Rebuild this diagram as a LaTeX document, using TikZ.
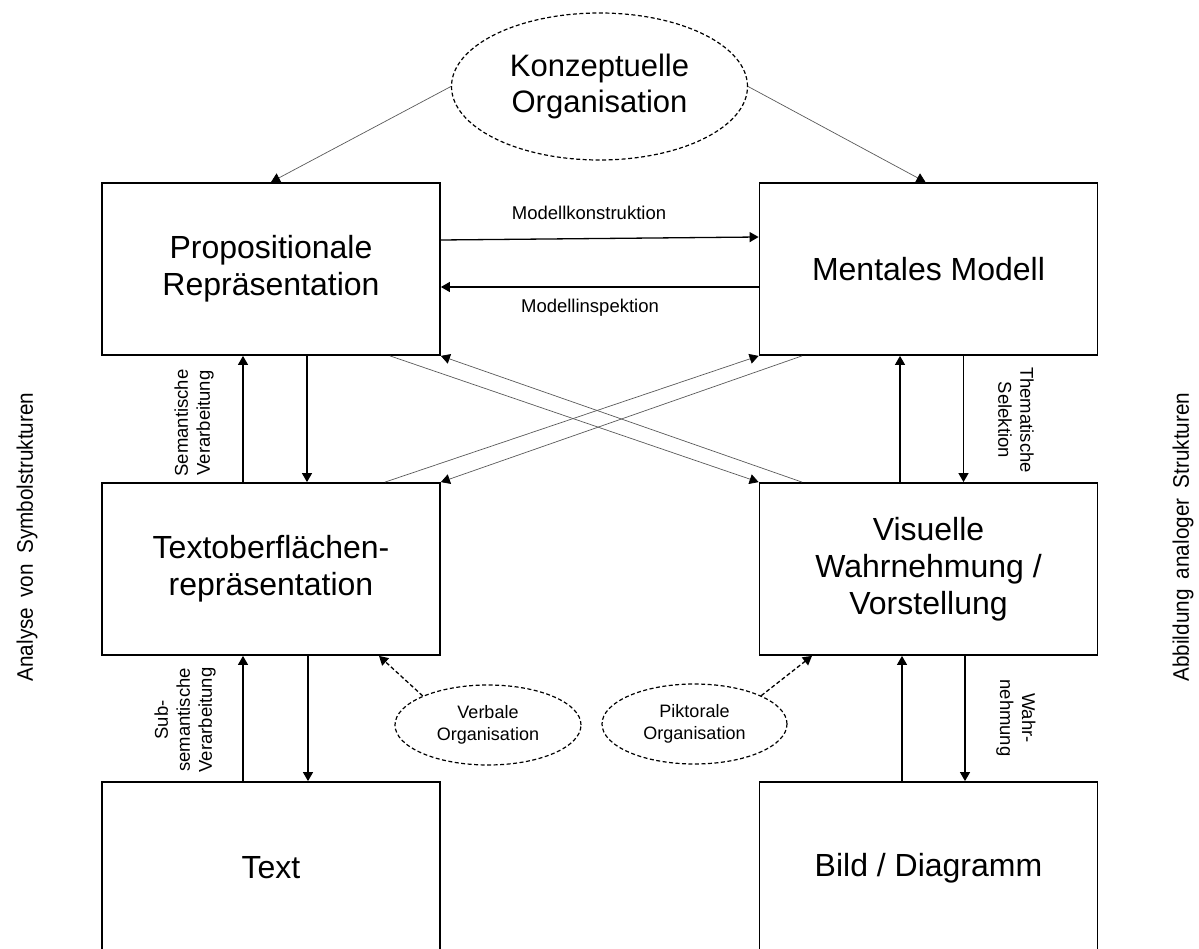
\documentclass[tikz,border=0pt]{standalone}
\usepackage{fontspec}
\usepackage{graphicx}
\setmainfont{Liberation Sans}
\usetikzlibrary{shapes.geometric,arrows.meta}

\begin{document}
\begin{tikzpicture}[x=1pt,y=-1pt,
  box/.style={draw, line width=1.8pt, minimum width=338pt, minimum height=172pt,
    align=center, inner sep=0pt, font=\fontsize{32}{37}\selectfont},
  org/.style={draw, ellipse, dash pattern=on 4pt off 2.5pt, line width=1.2pt,
    inner sep=0pt, align=center},
  tip/.style={-{Triangle[length=9pt,width=10pt,color=black]}},
  arr/.style={tip, line width=1.3pt},
  faint/.style={tip, line width=0.7pt, black!65},
  darr/.style={tip, line width=1.3pt, dash pattern=on 4pt off 2.5pt},
  lbl/.style={font=\fontsize{18.5}{22}\selectfont, align=center, inner sep=0pt},
  side/.style={font=\fontsize{22.5}{26}\selectfont, inner sep=0pt}
]
\path[use as bounding box] (0,0) rectangle (1199,949);
\clip (0,0) rectangle (1199,949);

% conceptual organisation on top
\node[org, minimum width=296pt, minimum height=147pt,
      font=\fontsize{31}{36}\selectfont] (konz) at (599.5,86.5) {Konzeptuelle\\Organisation};

% representation boxes
\node[box] (prop) at (271,269)   {Propositionale\\Repräsentation};
\node[box] (mm)   at (928.5,269) {Mentales Modell};
\node[box] (tob)  at (271,569)   {Textoberflächen-\\repräsentation};
\node[box] (vis)  at (928.5,569) {Visuelle\\Wahrnehmung /\\Vorstellung};
\node[box] (txt)  at (271,868)   {Text};
\node[box] (bild) at (928.5,868) {Bild / Diagramm};

% verbal and pictorial organisation
\node[org, minimum width=186pt, minimum height=80pt,
      font=\fontsize{18}{22}\selectfont] (verb) at (488,725) {Verbale\\Organisation};
\node[org, minimum width=185pt, minimum height=80pt,
      font=\fontsize{18}{22}\selectfont] (pikt) at (694.5,724) {Piktorale\\Organisation};

% conceptual organisation feeds both upper representations
\draw[faint] (konz.west) -- (prop.north);
\draw[faint] (konz.east) -- ([xshift=-3pt]mm.north);

% model construction and inspection
\draw[arr] ([yshift=29pt]prop.east) -- ([yshift=32pt]mm.west);
\draw[arr] ([yshift=-18pt]mm.west) -- ([yshift=-18pt]prop.east);
\node[lbl] (mk) at (589,213) {Modellkonstruktion};
\node[lbl] (mi) at (590,308) {Modellinspektion};

% upper vertical exchanges
\draw[arr] ([xshift=-28pt]tob.north) -- ([xshift=-28pt]prop.south);
\draw[arr] ([xshift=36pt]prop.south) -- ([xshift=36pt]tob.north);
\draw[arr] ([xshift=-28.5pt]vis.north) -- ([xshift=-28.5pt]mm.south);
\draw[arr] ([xshift=35pt]mm.south) -- ([xshift=35pt]vis.north);

% crossing links between the two channels
\draw[faint] ([xshift=119pt]prop.south) -- (vis.north west);
\draw[faint] ([xshift=-126.5pt]vis.north) -- (prop.south east);
\draw[faint] ([xshift=114pt]tob.north) -- (mm.south west);
\draw[faint] ([xshift=-126.5pt]mm.south) -- (tob.north east);

% lower vertical exchanges
\draw[arr] ([xshift=-28pt]txt.north) -- ([xshift=-28pt]tob.south);
\draw[arr] ([xshift=37pt]tob.south) -- ([xshift=37pt]txt.north);
\draw[arr] ([xshift=-26.5pt]bild.north) -- ([xshift=-26.5pt]vis.south);
\draw[arr] ([xshift=36.5pt]vis.south) -- ([xshift=36.5pt]bild.north);

% organisation influences
\draw[darr] (verb.156) -- ([xshift=108pt]tob.south);
\draw[darr] (pikt.23) -- ([xshift=-116.5pt]vis.south);

% process labels
\node[lbl, rotate=90]  (sem)    at (194,423)  {Semantische\\Verarbeitung};
\node[lbl, rotate=-90] (them)   at (1016,420) {Thematische\\Selektion};
\node[lbl, rotate=90]  (subsem) at (185,720)  {Sub-\\semantische\\Verarbeitung};
\node[lbl, rotate=-90] (wahr)   at (1016,718) {Wahr-\\nehmung};

% channel labels
\node[side, rotate=90] (ana) at (27,537)
  {\scalebox{0.92}[1]{Analyse\hspace{0.5em}von\hspace{0.5em}Symbolstrukturen}};
\node[side, rotate=90] (abb) at (1183,537)
  {\scalebox{0.92}[1]{Abbildung\hspace{0.5em}analoger\hspace{0.5em}Strukturen}};
\end{tikzpicture}
\end{document}
